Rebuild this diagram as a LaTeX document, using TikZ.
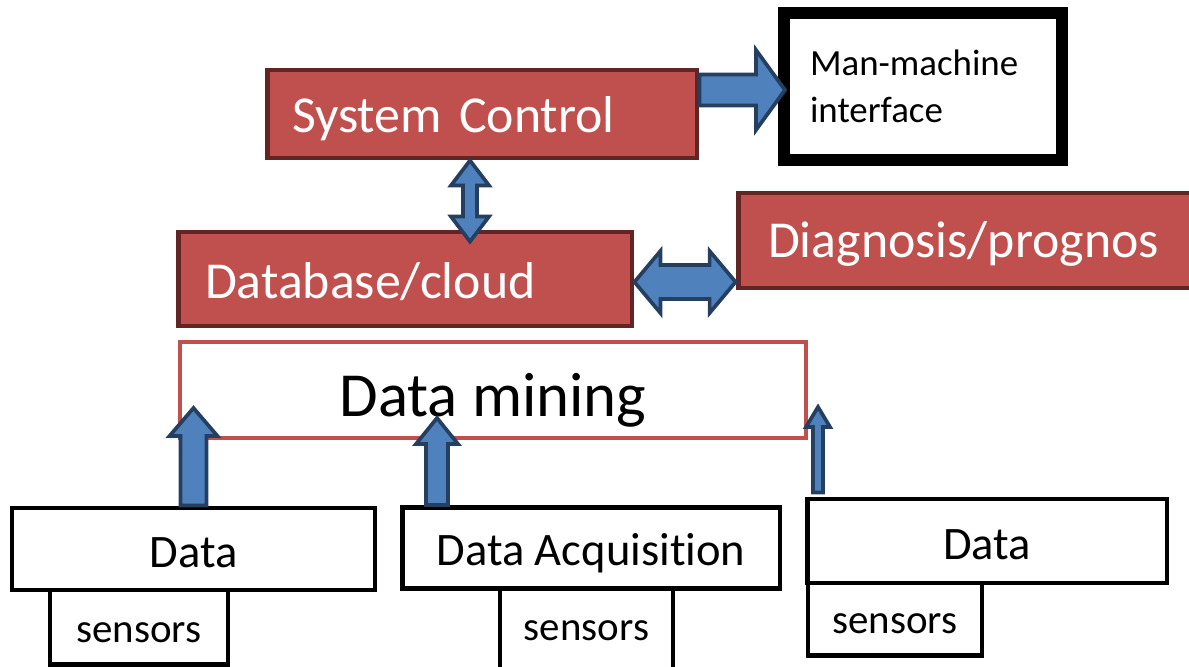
\documentclass[tikz,border=0pt]{standalone}
\usepackage{fontspec}
\setmainfont{Carlito}[Ligatures=NoCommon]
\usepackage{tikz}
\usetikzlibrary{calc,positioning}

\definecolor{boxred}{HTML}{C0504D}
\definecolor{boxedge}{HTML}{632523}
\definecolor{arrowblue}{HTML}{4F81BD}
\definecolor{arrowedge}{HTML}{243F60}

\tikzset{
  redbox/.style={draw=boxedge, fill=boxred, line width=2.8pt, text=white, align=left,
    font=\fontsize{29.5}{35}\selectfont, text depth=0pt},
  wbox/.style={draw=black, fill=white, line width=2.8pt, font=\fontsize{26.5}{32}\selectfont,
    text depth=0pt},
  senbox/.style={draw=black, fill=white, line width=2.8pt, font=\fontsize{23.3}{28}\selectfont,
    text depth=0pt},
  blockarrow/.style={fill=arrowblue, draw=arrowedge, line width=2.1pt, line join=miter},
}

% block arrow: tail, tip, half shaft, half head, head length
\newcommand{\blkarrow}[5]{%
  \coordinate (ba-b) at ($#2!#5!#1$);
  \filldraw[blockarrow] ($#1!#3!90:#2$) -- ($(ba-b)!#3!-90:#1$) -- ($(ba-b)!#4!-90:#1$) -- #2
    -- ($(ba-b)!#4!90:#1$) -- ($(ba-b)!#3!90:#1$) -- ($#1!#3!-90:#2$) -- cycle;
}
% same with a head on both ends
\newcommand{\blkdarrow}[5]{%
  \coordinate (ba-a) at ($#1!#5!#2$);
  \coordinate (ba-b) at ($#2!#5!#1$);
  \filldraw[blockarrow] #1 -- ($(ba-a)!#4!90:#2$) -- ($(ba-a)!#3!90:#2$) -- ($(ba-b)!#3!-90:#1$)
    -- ($(ba-b)!#4!-90:#1$) -- #2 -- ($(ba-b)!#4!90:#1$) -- ($(ba-b)!#3!90:#1$)
    -- ($(ba-a)!#3!-90:#2$) -- ($(ba-a)!#4!-90:#2$) -- cycle;
}

\begin{document}
\begin{tikzpicture}[x=0.02cm, y=-0.02cm]
  \useasboundingbox (0,0) rectangle (1189,666);

  % control level
  \node[redbox, minimum width=8.6cm, minimum height=1.76cm, inner xsep=0.5cm, text width=7.6cm,
    text height=0.76cm] (sysctl) at (482,114) {System Control};
  \node[draw=black, fill=white, line width=6.8pt, minimum width=5.56cm, minimum height=2.94cm,
    inner xsep=0.52cm, text width=4.52cm, align=left, font=\fontsize{21}{26.6}\selectfont]
    (mmi) at (923,86.5) {Man-machine\\interface};

  \node[redbox, minimum width=10cm, minimum height=1.9cm, inner xsep=0.6cm, text width=8.8cm,
    text height=0.66cm] (diag) at (988,240.5) {Diagnosis/prognos};
  \node[redbox, minimum width=9.08cm, minimum height=1.88cm, inner xsep=0.54cm, text width=8cm,
    text height=0.76cm] (db) at (405,279) {Database/cloud};

  \node[draw=boxred, fill=white, line width=2.3pt, minimum width=12.52cm, minimum height=1.92cm,
    font=\fontsize{35.7}{43}\selectfont, text height=1.04cm, text depth=0pt]
    (dm) at (493,390) {Data mining};

  % acquisition level
  \node[senbox, minimum width=3.56cm, minimum height=1.5cm, text height=0.6cm] (sen1) at (139,627) {sensors};
  \node[senbox, minimum width=3.46cm, minimum height=1.68cm, text height=0.4cm] (sen2) at (586.5,630) {sensors};
  \node[senbox, minimum width=3.48cm, minimum height=1.46cm, text height=0.58cm] (sen3) at (895,619) {sensors};

  \node[wbox, minimum width=7.26cm, minimum height=1.64cm, text height=0.72cm] (dat1) at (193.5,549) {Data};
  \node[wbox, minimum width=7.56cm, minimum height=1.62cm, text height=0.68cm] (daq) at (591,548) {Data Acquisition};
  \node[wbox, minimum width=7.2cm, minimum height=1.68cm, text height=0.72cm] (dat3) at (987,541) {Data};

  % arrows
  \coordinate (mmi-in) at (785,90);
  \coordinate (sc-db) at (470,0);
  \coordinate (db-diag) at (0,282);
  \coordinate (in1) at (193.5,408);
  \coordinate (in2) at (437,418);
  \coordinate (in3) at (818,407);
  \coordinate (db-top) at ($(db.north -| sc-db)+(0,12)$);
  \coordinate (out3) at ($(dat3.north -| in3)+(0,-4)$);

  \blkarrow{(sysctl.east |- mmi-in)}{(mmi-in)}{0.31cm}{0.8cm}{0.58cm}
  \blkdarrow{(sysctl.south -| sc-db)}{(db-top)}{0.14cm}{0.38cm}{0.5cm}
  \blkdarrow{(db.east |- db-diag)}{(diag.west |- db-diag)}{0.34cm}{0.62cm}{0.52cm}

  \blkarrow{(dat1.north)}{(in1)}{0.26cm}{0.48cm}{0.56cm}
  \blkarrow{(daq.north -| in2)}{(in2)}{0.22cm}{0.42cm}{0.52cm}
  \blkarrow{(out3)}{(in3)}{0.1cm}{0.24cm}{0.4cm}
\end{tikzpicture}
\end{document}
